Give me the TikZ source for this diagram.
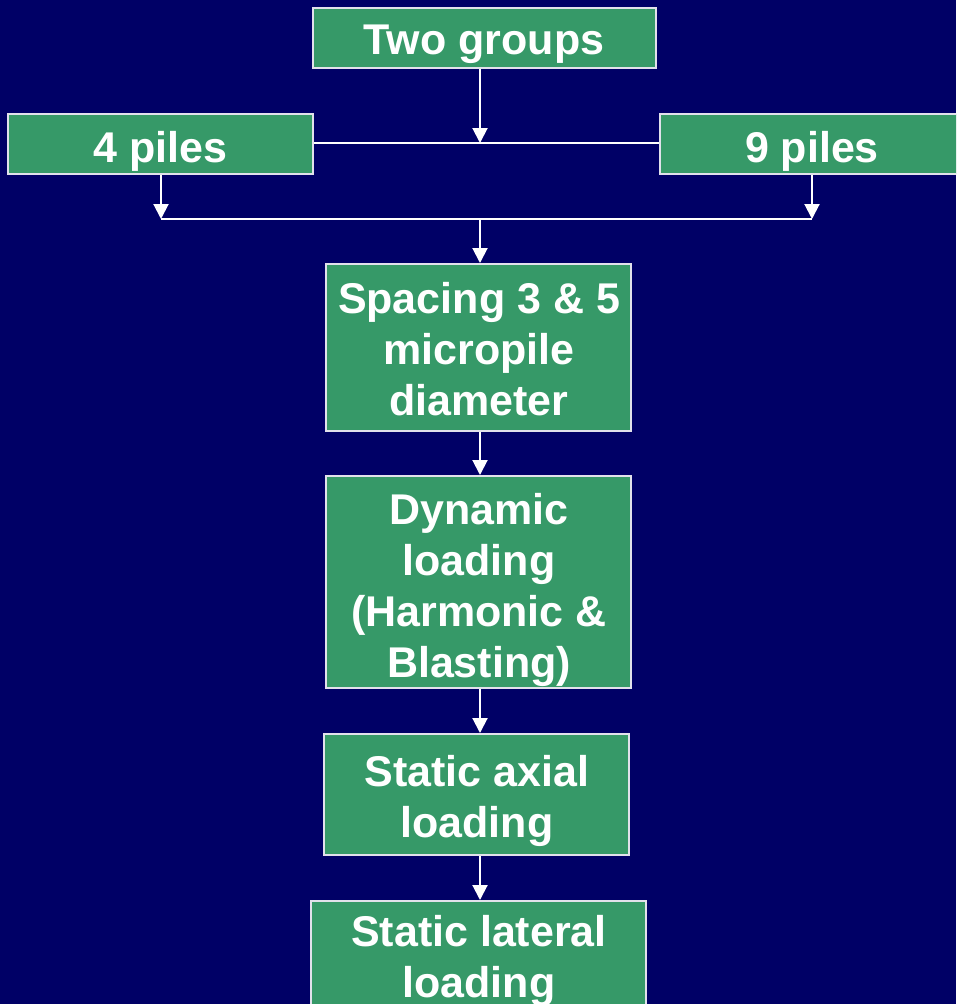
\documentclass[tikz,border=0pt]{standalone}
\usepackage{fontspec}
\setmainfont{Liberation Sans}
\usetikzlibrary{arrows.meta}
\definecolor{bgnavy}{RGB}{0,0,102}
\definecolor{boxgreen}{RGB}{54,153,104}
\definecolor{edgegray}{RGB}{225,225,235}
\tikzset{
  box/.style={draw=edgegray, line width=2pt, fill=boxgreen, inner sep=0pt},
  txt/.style={text=white, inner sep=0pt, align=center, font=\fontsize{43}{51}\selectfont\bfseries},
  link/.style={draw=white, line width=2pt},
  arr/.style={link, -{Triangle[width=15pt,length=15pt]}}
}
\begin{document}
\begin{tikzpicture}[x=1pt,y=-1pt]
\fill[bgnavy] (0,0) rectangle (956,1004);
\useasboundingbox (0,0) rectangle (956,1004);
\clip (0,0) rectangle (956,1004);
\node[box, minimum width=343pt, minimum height=60pt] (two) at (484.5,38) {};
\node[txt] (two-t) at (484,44.5) {Two groups};
\node[box, minimum width=305pt, minimum height=60pt] (p4) at (160.5,144) {};
\node[txt] (p4-t) at (160.5,151) {4 piles};
\node[box, minimum width=304pt, minimum height=60pt] (p9) at (812,144) {};
\node[txt] (p9-t) at (812,151) {9 piles};
\node[box, minimum width=305pt, minimum height=167pt] (spacing) at (478.5,347.5) {};
\node[txt] (spacing-t) at (479,349) {Spacing 3 \& 5\\micropile\\diameter};
\node[box, minimum width=305pt, minimum height=212pt] (dyn) at (478.5,582) {};
\node[txt] (dyn-t) at (479,590) {Dynamic\\loading\\(Harmonic \&\\Blasting)};
\node[box, minimum width=305pt, minimum height=121pt] (axial) at (476.5,794.5) {};
\node[txt] (axial-t) at (477,801) {Static axial\\loading};
\node[box, minimum width=335pt, minimum height=116pt, anchor=north] (lateral) at (478.5,900) {};
\node[txt] (lateral-t) at (479,961) {Static lateral\\loading};
\coordinate (j1) at (480,143);
\coordinate (j2a) at (161,219);
\coordinate (j2b) at (812,219);
\coordinate (j3) at (480,219);
\draw[link] (p4.east |- j1) -- (p9.west |- j1);
\draw[arr] (two.south -| j1) -- (j1);
\draw[link] (j2a) -- (j2b);
\draw[arr] (p4.south -| j2a) -- (j2a);
\draw[arr] (p9.south -| j2b) -- (j2b);
\draw[arr] (j3) -- (spacing.north -| j3);
\draw[arr] (spacing.south -| j3) -- (dyn.north -| j3);
\draw[arr] (dyn.south -| j3) -- (axial.north -| j3);
\draw[arr] (axial.south -| j3) -- (lateral.north -| j3);
\end{tikzpicture}
\end{document}
